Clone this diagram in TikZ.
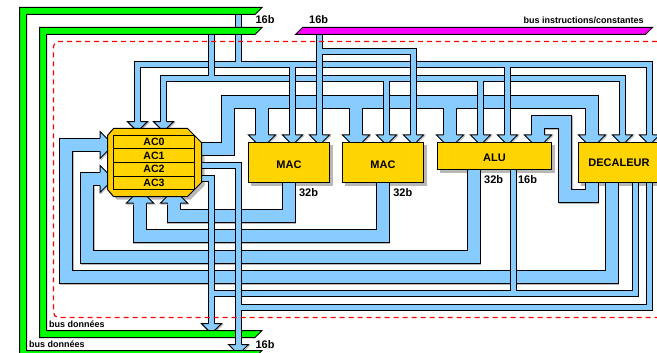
\documentclass[tikz,border=0pt]{standalone}
\usepackage{fontspec}
\setmainfont{Liberation Sans}
\usetikzlibrary{calc}
\pgfdeclarelayer{background}
\pgfsetlayers{background,main}
\definecolor{busblue}{HTML}{88CCFF}
\definecolor{blockyellow}{HTML}{FFD400}
\definecolor{acyellow}{HTML}{FFCC00}
\definecolor{shadowgray}{HTML}{B8B8B8}
\definecolor{dashred}{HTML}{FF0000}
\definecolor{datagreen}{HTML}{00FF00}
\definecolor{instrpink}{HTML}{FF00FF}
\begin{document}
\begin{tikzpicture}[x=1pt,y=-1pt]

    % cadre de la figure, en pixels
    \useasboundingbox (0,0) rectangle (657,353);

    \tikzset{
        block/.style={draw=black, line width=1pt, fill=blockyellow, inner sep=0pt, font=\bfseries\fontsize{11}{11}\selectfont},
        acrow/.style={block, minimum width=81pt, minimum height=13.5pt, font=\bfseries\fontsize{10.6}{11}\selectfont},
        widthlabel/.style={inner sep=0pt, font=\bfseries\fontsize{11}{11}\selectfont},
        buslabel/.style={inner sep=0pt, font=\bfseries\fontsize{9}{9}\selectfont},
        busfill/.style={draw=busblue, line cap=butt},
        busedge/.style={draw=black, line cap=butt},
        busshadow/.style={draw=shadowgray, line cap=butt},
        mainbus/.style={draw=black, line width=1pt}
    }

    % un bus : ombre, contour puis remplissage
    \newcommand{\busline}[2]{%
        \draw[busshadow, line width={#1+2}, shift={(1,1)}] #2;
        \draw[busedge, line width={#1+2}] #2;
        \draw[busfill, line width=#1] #2;
    }

    % une tete de fleche, pointe sous le bloc
    \newcommand{\bushead}[3]{%
        \begin{scope}[shift={(#1)}]
            \draw[shadowgray, line width=1pt, shift={(1,1)}, rotate=#2] (#3,-7) -- ({#3+7},-7) -- (#3,0) (-#3,-7) -- ({-#3-7},-7) -- (-#3,0);
            \fill[busblue, rotate=#2] ({-#3-0.5},0) -- ({#3+0.5},0) -- ({#3+7},-7) -- ({-#3-7},-7) -- cycle;
            \draw[black, line width=1pt, rotate=#2] (#3,-7) -- ({#3+7},-7) -- (#3,0) (-#3,-7) -- ({-#3-7},-7) -- (-#3,0);
        \end{scope}
    }

    % rails horizontaux
    \coordinate (railW) at (228,102);
    \coordinate (railA) at (0,64.5);
    \coordinate (railB) at (0,78.5);
    \coordinate (railI) at (0,51.5);
    \coordinate (railD) at (0,293.5);
    \coordinate (railE) at (0,307.5);

    % entrees des blocs
    \foreach \p/\x in {mac1a/262,mac1b/292.5,mac1c/319.5,mac2a/356,mac2b/386.5,mac2c/413.5,
                       alua/450,alub/480.5,aluc/507.5,alud/538,deca/592,decb/622.5,decc/649.5} {
        \coordinate (\p) at (\x,142);
    }
    \coordinate (actop1) at (137.5,128.7);
    \coordinate (actop2) at (163.5,128.7);
    \coordinate (acbot1) at (140,196);
    \coordinate (acbot2) at (174,196);
    \coordinate (acleft1) at (107,145);
    \coordinate (acleft2) at (107,179);

    % sorties des blocs
    \coordinate (acout1) at (201,149);
    \coordinate (acout2) at (201,165.5);
    \coordinate (acout3) at (201,178.5);
    \coordinate (mac1out) at (289,182);
    \coordinate (mac2out) at (383,182);
    \coordinate (aluout1) at (474,169);
    \coordinate (aluout2) at (513.5,169);
    \coordinate (decout1) at (592,182);
    \coordinate (decout2) at (612,182);
    \coordinate (decout3) at (635.5,182);
    \coordinate (decout4) at (649.5,182);

    % bouts de bus vers les bus de donnees
    \coordinate (dataup) at (238.5,14);
    \coordinate (datalow) at (211.5,34);
    \coordinate (instrtop) at (319.5,34);
    \coordinate (datadown1) at (211.5,330.7);
    \coordinate (datadown2) at (238.5,351.5);

    % --- sortie large de AC ---
    \busline{12}{(acout1) -| (railW) -| (deca) (railW -| mac1a) -- (mac1a) (railW -| mac2a) -- (mac2a) (railW -| alua) -- (alua)}

    % --- bus haut ---
    \busline{5}{(actop1) |- (railA -| decc) -- (decc) (dataup) -- (railA -| dataup)}
    \busline{5}{(actop2) |- (railB -| decb) -- (decb) (datalow) -- (railB -| datalow) (railB -| mac2b) -- (mac2b) (railB -| alub) -- (alub)}
    \foreach \p in {mac1b,aluc} {
        \busline{5}{($(railA -| \p)+(0,3.5)$) -- (\p)}
        \draw[busfill, line width=5pt] (railA -| \p) -- ($(railA -| \p)+(0,6)$);
    }

    % --- bus instructions ---
    \busline{5}{(instrtop) -- (mac1c) (railI -| instrtop) -| (mac2c)}

    % --- retours vers AC ---
    \busline{12}{(mac1out) |- (216,216) -| (acbot2)}
    \busline{12}{(mac2out) |- (216,236) -| (acbot1)}
    \busline{12}{(aluout1) |- (87,257) |- (acleft2)}
    \busline{12}{(decout2) |- (66,277) |- (acleft1)}
    \busline{12}{(decout1) |- (565,196) |- (538,122) -- (alud)}

    % --- vers le bus de donnees interne ---
    \busline{5}{(acout3) -| (datadown1) (railD -| datadown1) -| (decout3) (aluout2) |- (railD -| datadown1)}
    \bushead{datadown1}{0}{3}

    % bus de donnees interne
    \filldraw[mainbus, fill=datagreen] (262,27.5) -- (255,34.5) -- (46.5,34.5) -- (46.5,330.5) -- (262,330.5) -- (255,337.5) -- (39.5,337.5) -- (39.5,27.5) -- cycle;

    % --- vers le bus de donnees externe ---
    \busline{5}{(acout2) -| (datadown2) (railE -| datadown2) -| (decout4)}
    \bushead{datadown2}{0}{3}

    % bus de donnees externe
    \filldraw[mainbus, fill=datagreen] (262,7.5) -- (255,14.5) -- (26.5,14.5) -- (26.5,350.5) -- (262,350.5) -- (255,357.5) -- (19.5,357.5) -- (19.5,7.5) -- cycle;

    % bus instructions/constantes
    \filldraw[mainbus, fill=instrpink] (295.5,34.5) -- (302.5,27.5) -- (652.5,27.5) -- (645.5,34.5) -- cycle;

    % --- tetes de fleche ---
    \foreach \p in {mac1b,mac1c,mac2b,mac2c,alub,aluc,decb,decc,actop1,actop2} {
        \bushead{\p}{0}{3}
    }
    \foreach \p in {mac1a,mac2a,alua,alud,deca} {
        \bushead{\p}{0}{6.5}
    }
    \bushead{acbot1}{180}{6.5}
    \bushead{acbot2}{180}{6.5}
    \bushead{acleft1}{90}{6.5}
    \bushead{acleft2}{90}{6.5}

    % --- blocs ---
    \node[block, text height=12pt, minimum width=81pt, minimum height=40pt] (mac1) at (289,162.5) {MAC};
    \node[block, text height=12pt, minimum width=81pt, minimum height=40pt] (mac2) at (383,162.5) {MAC};
    \node[block, text height=12pt, minimum width=114pt, minimum height=27pt] (alu) at (494.5,156) {ALU};
    \node[block, minimum width=81pt, minimum height=40pt] (decaleur) at (619,162.5) {DECALEUR};

    % banc de registres
    \filldraw[mainbus, fill=acyellow] (113.5,128.5) -- (187.5,128.5) -- (201.5,142.5) -- (201.5,182.5) -- (187.5,196.5) -- (113.5,196.5) -- (107.5,189.5) -- (107.5,135.5) -- cycle;
    \node[acrow] (ac0) at (154,142.25) {AC0};
    \node[acrow] (ac1) at (154,155.75) {AC1};
    \node[acrow] (ac2) at (154,169.25) {AC2};
    \node[acrow] (ac3) at (154,182.75) {AC3};

    % ombres des blocs
    \begin{pgfonlayer}{background}
        \foreach \b in {mac1,mac2,alu,decaleur} {
            \fill[shadowgray] ([shift={(3,3)}]\b.north west) rectangle ([shift={(3,3)}]\b.south east);
        }
        \fill[shadowgray] (116.5,199.5) -- (190.5,199.5) -- (204.5,185.5) -- (204.5,145) -- (190,145) -- (110,190) -- cycle;
    \end{pgfonlayer}

    % pointilles autour du processeur
    \draw[dashred, line width=1.2pt, dash pattern=on 5pt off 4pt, rounded corners=5pt] (657,41.5) -- (53.5,41.5) -- (53.5,317.5) -- (657,317.5);

    % --- textes ---
    \node[widthlabel] (size1) at (265,20) {16b};
    \node[widthlabel] (size2) at (318.7,20) {16b};
    \node[widthlabel] (size3) at (265,344.3) {16b};
    \node[widthlabel] (size4) at (308.5,192.3) {32b};
    \node[widthlabel] (size5) at (402.8,192.3) {32b};
    \node[widthlabel] (size6) at (493.7,179.3) {32b};
    \node[widthlabel] (size7) at (527.5,179.3) {16b};
    \node[buslabel] (instr) at (583.7,20.7) {bus instructions/constantes};
    \node[buslabel] (data1) at (76.8,324) {bus données};
    \node[buslabel] (data2) at (56.8,344.7) {bus données};

\end{tikzpicture}
\end{document}
